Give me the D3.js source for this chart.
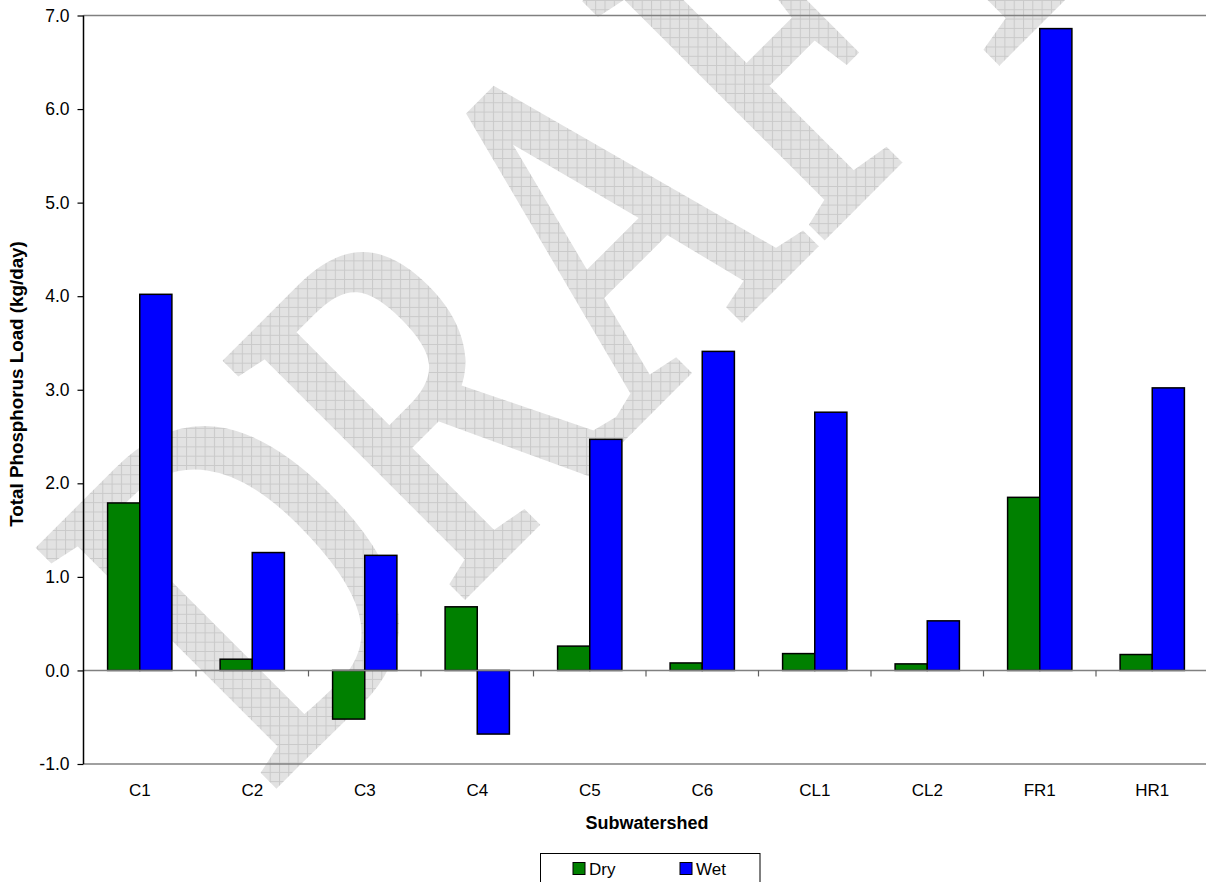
<!DOCTYPE html>
<html>
<head>
<meta charset="utf-8">
<script src="https://cdn.jsdelivr.net/npm/d3@7"></script>
<style>
  html, body { margin: 0; padding: 0; background: #fff; }
  svg { display: block; }
  text { font-family: "Liberation Sans", Arial, sans-serif; fill: #000; }
</style>
</head>
<body>
<svg id="chart" width="1206" height="882"></svg>
<script>
// Total phosphorus load by subwatershed, dry vs wet weather
const categories = ["C1", "C2", "C3", "C4", "C5", "C6", "CL1", "CL2", "FR1", "HR1"];
const dryLoad = [1.79, 0.12, -0.52, 0.68, 0.26, 0.08, 0.18, 0.07, 1.85, 0.17];
const wetLoad = [4.02, 1.26, 1.23, -0.68, 2.47, 3.41, 2.76, 0.53, 6.86, 3.02];
const seriesNames = ["Dry", "Wet"];
const seriesColors = ["#008000", "#0000FF"];
const yTicks = [-1, 0, 1, 2, 3, 4, 5, 6, 7];
const yTitle = "Total Phosphorus Load (kg/day)";
const xTitle = "Subwatershed";
const watermarkText = "DRAFT";

const W = 1206, H = 882;
const plot = { left: 83.5, right: 1208.5, top: 15.5, bottom: 764 };

const svg = d3.select("#chart");
const defs = svg.append("defs");

// cross-hatched fill for the watermark
const pat = defs.append("pattern")
  .attr("id", "hatch")
  .attr("patternUnits", "userSpaceOnUse")
  .attr("width", 9.3).attr("height", 9.3);
pat.append("rect").attr("width", 9.3).attr("height", 9.3).attr("fill", "#e2e2e2");
pat.append("path").attr("d", "M0,0.5H9.3M0.5,0V9.3")
  .attr("stroke", "#c9c9c9").attr("stroke-width", 1).attr("fill", "none");

// watermark lettering used as a mask over the hatch
const mask = defs.append("mask").attr("id", "wm")
  .attr("maskUnits", "userSpaceOnUse")
  .attr("x", 0).attr("y", 0).attr("width", W).attr("height", H);
mask.append("text")
  .attr("transform", "translate(268,790) rotate(-45) scale(0.725,1)")
  .attr("x", 0).attr("y", 0)
  .style("font-family", "'Liberation Serif', 'Times New Roman', serif")
  .style("font-size", "505px")
  .style("fill", "#fff")
  .style("stroke", "#fff")
  .style("stroke-width", "10px")
  .style("stroke-linejoin", "miter")
  .style("stroke-miterlimit", "3")
  .text(watermarkText);

svg.append("rect")
  .attr("x", 0).attr("y", 0).attr("width", W).attr("height", H)
  .attr("fill", "url(#hatch)")
  .attr("mask", "url(#wm)");

// scales
const x = d3.scaleBand().domain(categories).range([plot.left, plot.right]).paddingInner(0).paddingOuter(0);
const barW = x.bandwidth() / 3.5;
const xs = d3.scaleBand().domain(seriesNames).range([0.75 * barW, 2.75 * barW]).padding(0);
const y = d3.scaleLinear().domain([-1, 7]).range([plot.bottom, plot.top]);

// plot frame lines (top and bottom)
svg.append("line")
  .attr("x1", plot.left).attr("x2", plot.right)
  .attr("y1", y(7)).attr("y2", y(7))
  .attr("stroke", "#808080").attr("stroke-width", 1.5);
svg.append("line")
  .attr("x1", plot.left).attr("x2", plot.right)
  .attr("y1", y(-1)).attr("y2", y(-1))
  .attr("stroke", "#808080").attr("stroke-width", 1.5);

// bars
const rows = categories.map((c, i) => ({ cat: c, values: [dryLoad[i], wetLoad[i]] }));
const groups = svg.append("g").selectAll("g").data(rows).join("g")
  .attr("transform", d => `translate(${x(d.cat)},0)`);
groups.selectAll("rect")
  .data(d => d.values.map((v, k) => ({ v, k })))
  .join("rect")
  .attr("x", d => xs(seriesNames[d.k]))
  .attr("width", xs.bandwidth())
  .attr("y", d => Math.min(y(d.v), y(0)))
  .attr("height", d => Math.abs(y(d.v) - y(0)))
  .attr("fill", d => seriesColors[d.k])
  .attr("stroke", "#000").attr("stroke-width", 1.5);

// category axis along zero
const xAxis = svg.append("g");
xAxis.append("line")
  .attr("x1", plot.left).attr("x2", plot.right)
  .attr("y1", y(0)).attr("y2", y(0))
  .attr("stroke", "#808080").attr("stroke-width", 1.5);
xAxis.selectAll("line.tick")
  .data(categories.slice(1))
  .join("line").attr("class", "tick")
  .attr("x1", d => x(d)).attr("x2", d => x(d))
  .attr("y1", y(0)).attr("y2", y(0) + 6)
  .attr("stroke", "#606060").attr("stroke-width", 1.2);

// category labels below the plot
svg.append("g").selectAll("text").data(categories).join("text")
  .attr("x", d => x(d) + x.bandwidth() / 2)
  .attr("y", 796)
  .attr("text-anchor", "middle")
  .style("font-size", "17px")
  .text(d => d);

// value axis (plain hyphen for negatives)
const fmt = d3.format(".1f");
const yAxis = d3.axisLeft(y).tickValues(yTicks)
  .tickFormat(d => fmt(d).replace("\u2212", "-"))
  .tickSize(6).tickPadding(8);
const yg = svg.append("g").attr("transform", `translate(${plot.left},0)`).call(yAxis);
yg.select(".domain").attr("stroke", "#000").attr("stroke-width", 1.5)
  .attr("d", `M0,${y(7)}V${y(-1)}`);
yg.selectAll(".tick line").attr("stroke", "#000").attr("stroke-width", 1.2);
yg.selectAll(".tick text")
  .style("font-family", "'Liberation Sans', Arial, sans-serif")
  .style("font-size", "17.5px").attr("fill", "#000");

// axis titles
svg.append("text")
  .attr("transform", `translate(23,384) rotate(-90)`)
  .attr("text-anchor", "middle")
  .style("font-size", "18.8px").style("font-weight", "bold")
  .text(yTitle);
svg.append("text")
  .attr("x", 647).attr("y", 829)
  .attr("text-anchor", "middle")
  .style("font-size", "18px").style("font-weight", "bold")
  .text(xTitle);

// legend
const lg = svg.append("g");
lg.append("rect")
  .attr("x", 540.5).attr("y", 853.5).attr("width", 219.5).attr("height", 40)
  .attr("fill", "#fff").attr("stroke", "#000").attr("stroke-width", 1);
const legendX = [573, 680];
seriesNames.forEach((name, k) => {
  lg.append("rect")
    .attr("x", legendX[k]).attr("y", 862.5).attr("width", 12).attr("height", 12)
    .attr("fill", seriesColors[k]).attr("stroke", "#000").attr("stroke-width", 1);
  lg.append("text")
    .attr("x", legendX[k] + 16).attr("y", 874.5)
    .style("font-size", "17px")
    .text(name);
});
</script>
</body>
</html>
